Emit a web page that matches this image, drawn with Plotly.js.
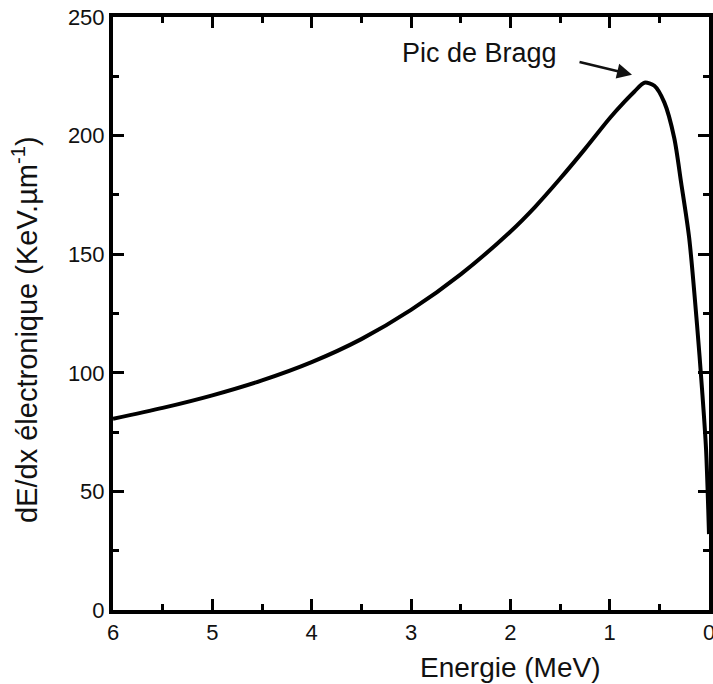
<!DOCTYPE html>
<html>
<head>
<meta charset="utf-8">
<script src="https://cdn.plot.ly/plotly-3.0.1.min.js"></script>
<style>html,body{margin:0;padding:0;background:#fff;}#chart{width:713px;height:684px;}</style>
</head>
<body>
<div id="chart"></div>
<script>
const energy = [6, 5.5, 5, 4.5, 4, 3.5, 3, 2.5, 2, 1.75, 1.5, 1.25, 1, 0.85, 0.75, 0.65, 0.55, 0.45, 0.35, 0.28, 0.2, 0.12, 0.07, 0.03, 0];
const dedx = [80.6, 85.2, 90.5, 96.8, 104.5, 114.2, 126.5, 141.5, 159.5, 170, 181.8, 194.3, 207.3, 214.3, 218.6, 222.3, 221, 214, 199, 180, 157, 120, 93, 68, 32];
const xTicks = [6, 5, 4, 3, 2, 1, 0];
const yTicks = [0, 50, 100, 150, 200, 250];
const annText = "Pic de Bragg";
const xTitle = "Energie (MeV)";
const yTitle = "dE/dx électronique (KeV.µm<sup>-1</sup>)";
const peakPoint = [0.775, 225.7];
const labelPoint = [2.31, 235];

const font = "Liberation Sans, Arial, sans-serif";

const trace = {
  x: energy, y: dedx, mode: 'lines', type: 'scatter',
  line: {color: '#000', width: 4, shape: 'spline', smoothing: 0.8},
  hoverinfo: 'skip'
};

const axisCommon = {
  showline: true, linecolor: '#000', linewidth: 4, mirror: 'ticks',
  ticks: 'inside', ticklen: 11, tickwidth: 3, tickcolor: '#000',
  showgrid: false, zeroline: false, ticklabeloverflow: 'allow',
  tickfont: {family: font, size: 22, color: '#111'}
};

const layout = {
  width: 713, height: 684,
  margin: {l: 113, r: 4, t: 17, b: 74},
  paper_bgcolor: '#fff', plot_bgcolor: '#fff',
  showlegend: false,
  xaxis: Object.assign({}, axisCommon, {
    range: [6, 0], tickvals: xTicks, ticktext: xTicks.map(String),
    minor: {dtick: 0.5, ticks: 'inside', ticklen: 6, tickwidth: 3, tickcolor: '#000', showgrid: false}
  }),
  yaxis: Object.assign({}, axisCommon, {
    range: [0, 250], tickvals: yTicks, ticktext: yTicks.map(String),
    minor: {dtick: 25, ticks: 'inside', ticklen: 6, tickwidth: 3, tickcolor: '#000', showgrid: false}
  }),
  annotations: [
    {x: labelPoint[0], y: labelPoint[1], xref: 'x', yref: 'y', text: annText, showarrow: false,
     font: {family: font, size: 27, color: '#111'}},
    {x: peakPoint[0], y: peakPoint[1], xref: 'x', yref: 'y', text: '', showarrow: true,
     ax: -54, ay: -13, arrowhead: 2, arrowsize: 1.2, arrowwidth: 2.5, arrowcolor: '#111'},
    {x: 0.5, y: 0, xref: 'paper', yref: 'paper', xanchor: 'center', yanchor: 'middle',
     text: xTitle, showarrow: false, font: {family: font, size: 28, color: '#111'}},
    {x: 0, y: 0.5, xref: 'paper', yref: 'paper', xanchor: 'center', yanchor: 'middle',
     textangle: -90, text: yTitle, showarrow: false, font: {family: font, size: 29, color: '#111'}}
  ]
};

// paper coords refer to plot area; convert pixel positions to plot-area fractions
const pl = 113, pr = 709, pt = 17, pb = 610;
layout.annotations[2].x = (510 - pl) / (pr - pl);
layout.annotations[2].y = (pb - 667) / (pb - pt);
layout.annotations[3].x = (25 - pl) / (pr - pl);
layout.annotations[3].y = (pb - 330) / (pb - pt);

Plotly.newPlot('chart', [trace], layout, {staticPlot: true, displayModeBar: false});
</script>
</body>
</html>
